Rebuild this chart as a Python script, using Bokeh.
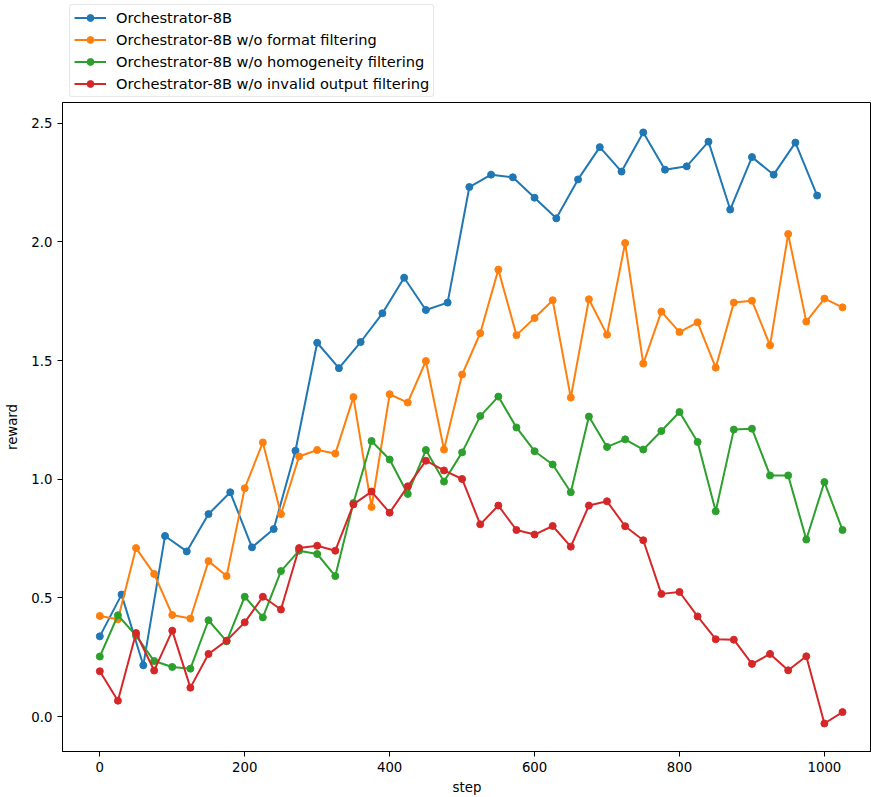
from bokeh.plotting import figure
from bokeh.layouts import column
from bokeh.models import Range1d, FixedTicker, Legend, LegendItem, NumeralTickFormatter
from bokeh.embed import file_html
from bokeh.resources import INLINE

steps_blue = list(range(0, 991, 30))
steps_other = list(range(0, 1026, 25))

blue = [0.338, 0.514, 0.216, 0.761, 0.696, 0.853, 0.945, 0.713, 0.790, 1.120,
        1.575, 1.468, 1.578, 1.699, 1.849, 1.713, 1.744, 2.231, 2.283, 2.272,
        2.186, 2.099, 2.263, 2.399, 2.296, 2.461, 2.304, 2.318, 2.422, 2.136,
        2.357, 2.283, 2.418, 2.195]
orange = [0.424, 0.410, 0.710, 0.601, 0.428, 0.413, 0.655, 0.592, 0.962, 1.155,
          0.853, 1.096, 1.123, 1.108, 1.346, 0.883, 1.358, 1.323, 1.498, 1.125,
          1.441, 1.615, 1.883, 1.607, 1.679, 1.754, 1.344, 1.758, 1.609, 1.995,
          1.487, 1.706, 1.620, 1.661, 1.470, 1.744, 1.752, 1.564, 2.033, 1.664,
          1.761, 1.724]
green = [0.253, 0.427, 0.341, 0.234, 0.209, 0.202, 0.406, 0.317, 0.505, 0.418,
         0.613, 0.699, 0.685, 0.592, 0.900, 1.161, 1.083, 0.938, 1.123, 0.990,
         1.113, 1.266, 1.348, 1.218, 1.118, 1.062, 0.945, 1.264, 1.136, 1.168,
         1.125, 1.203, 1.283, 1.157, 0.865, 1.209, 1.213, 1.016, 1.016, 0.746,
         0.988, 0.786]
red = [0.191, 0.067, 0.352, 0.194, 0.362, 0.122, 0.264, 0.320, 0.397, 0.505,
       0.451, 0.710, 0.720, 0.699, 0.894, 0.948, 0.859, 0.970, 1.078, 1.037,
       1.001, 0.810, 0.889, 0.786, 0.767, 0.803, 0.716, 0.889, 0.907, 0.802,
       0.743, 0.517, 0.525, 0.422, 0.326, 0.324, 0.222, 0.264, 0.195, 0.254,
       -0.029, 0.019]

labels = ["Orchestrator-8B",
          "Orchestrator-8B w/o format filtering",
          "Orchestrator-8B w/o homogeneity filtering",
          "Orchestrator-8B w/o invalid output filtering"]
colors = ["#1f77b4", "#ff7f0e", "#2ca02c", "#d62728"]
x_ticks = [0, 200, 400, 600, 800, 1000]
y_ticks = [0.0, 0.5, 1.0, 1.5, 2.0, 2.5]

FONT = "DejaVu Sans"
W = 871

series = [(steps_blue, blue), (steps_other, orange), (steps_other, green), (steps_other, red)]

# ---- legend strip (above the axes, as in the reference) ----
# The same series are given to this strip, but its y range lies far above them,
# so only their legend entries show.
lg = figure(width=W, height=100, output_backend="svg", toolbar_location=None,
            x_range=Range1d(-51.5, 1065), y_range=Range1d(10, 11),
            x_axis_type=None, y_axis_type=None,
            min_border_left=0, min_border_right=0, min_border_top=0, min_border_bottom=0)
lg.outline_line_color = None
lg.xgrid.visible = False
lg.ygrid.visible = False
lg.border_fill_color = "white"
lg.background_fill_color = "white"

items = []
for (xs, ys), c, lab in zip(series, colors, labels):
    r1 = lg.line(xs, ys, line_color=c, line_width=2)
    r2 = lg.scatter(xs, ys, size=7, fill_color=c, line_color=c)
    items.append(LegendItem(label=lab, renderers=[r1, r2]))

legend = Legend(items=items, location=(7, 3), orientation="vertical",
                label_text_font=FONT, label_text_font_size="14.6px",
                label_text_color="black",
                glyph_width=32, glyph_height=17, label_height=17,
                spacing=5, padding=4, margin=0, label_standoff=10,
                border_line_color="#d0d0d0", border_line_width=1,
                border_radius=3,
                background_fill_color="white", background_fill_alpha=0.8)
lg.add_layout(legend, "center")

# ---- main axes ----
p = figure(width=W, height=697, output_backend="svg", toolbar_location=None,
           x_range=Range1d(-51.5, 1065), y_range=Range1d(-0.147, 2.587),
           min_border_left=62, min_border_right=0, min_border_top=2, min_border_bottom=45,
           x_axis_label="step", y_axis_label="reward")
p.background_fill_color = "white"
p.border_fill_color = "white"
p.outline_line_color = "black"
p.outline_line_width = 1
p.xgrid.visible = False
p.ygrid.visible = False

for ax in [p.xaxis[0], p.yaxis[0]]:
    ax.axis_line_color = "black"
    ax.axis_line_width = 1
    ax.major_tick_line_color = "black"
    ax.major_tick_out = 5
    ax.major_tick_in = 0
    ax.minor_tick_line_color = None
    ax.major_label_text_font = FONT
    ax.major_label_text_font_size = "13.3px"
    ax.major_label_text_color = "black"
    ax.axis_label_text_font = FONT
    ax.axis_label_text_font_size = "13.3px"
    ax.axis_label_text_font_style = "normal"
    ax.axis_label_text_color = "black"
    ax.major_label_standoff = 5
    ax.axis_label_standoff = 5

p.xaxis[0].ticker = FixedTicker(ticks=x_ticks)
p.yaxis[0].ticker = FixedTicker(ticks=y_ticks)
p.yaxis[0].formatter = NumeralTickFormatter(format="0.0")
p.yaxis[0].axis_label_standoff = 8

for (xs, ys), c in zip(series, colors):
    p.line(xs, ys, line_color=c, line_width=2, line_join="round")
    p.scatter(xs, ys, size=7, fill_color=c, line_color=c)

layout = column(lg, p, spacing=0)
open("out.html", "w").write(file_html(layout, INLINE))
